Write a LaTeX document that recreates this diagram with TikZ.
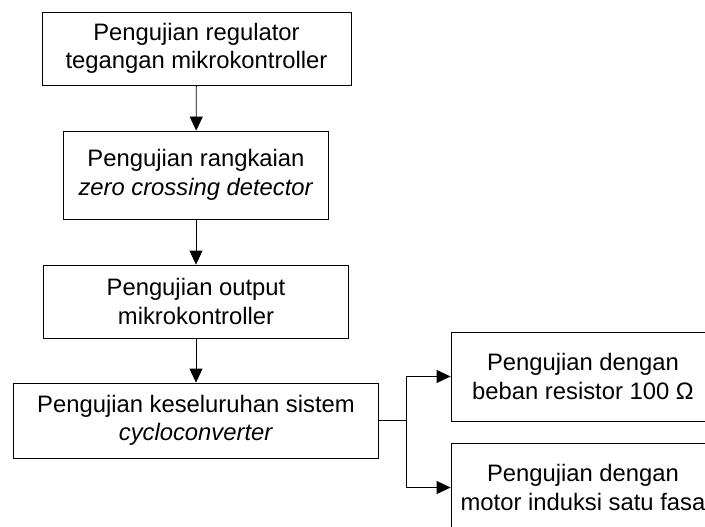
\documentclass[tikz,border=0pt]{standalone}
\usepackage{fontspec}
\setmainfont{Liberation Sans}
\usetikzlibrary{arrows.meta}
\begin{document}
\begin{tikzpicture}[x=1pt,y=-1pt,
  boxnode/.style={draw=black,line width=0.8pt,rectangle,align=center,inner sep=0pt,
    font=\fontsize{23.8}{28.5}\selectfont},
  conn/.style={line width=0.8pt,-{Triangle[length=14pt,width=13pt]}}]
\useasboundingbox (0,0) rectangle (705,527);
\clip (0,0) rectangle (705,527);
\node[boxnode,minimum width=309pt,minimum height=73pt] (b1) at (196.5,48.5)
  {Pengujian regulator\\tegangan mikrokontroller};
\node[boxnode,minimum width=265pt,minimum height=88pt] (b2) at (196,175)
  {Pengujian rangkaian\\\textit{zero crossing detector}};
\node[boxnode,minimum width=305pt,minimum height=73pt] (b3) at (196,301.5)
  {Pengujian output\\mikrokontroller};
\node[boxnode,minimum width=365pt,minimum height=75pt] (b4) at (196,420.5)
  {Pengujian keseluruhan sistem\\\textit{cycloconverter}};
\node[boxnode,minimum width=264pt,minimum height=89pt] (b5) at (583,376.5)
  {Pengujian dengan\\beban resistor 100 Ω};
\node[boxnode,minimum width=264pt,minimum height=89pt] (b6) at (583,487.5)
  {Pengujian dengan\\motor induksi satu fasa};
\coordinate (j) at (406,420.5);
\draw[conn] (b1) -- (b2);
\draw[conn] (b2) -- (b3);
\draw[conn] (b3) -- (b4);
\draw[line width=0.8pt] (b4.east) -- (j);
\draw[conn] (j) |- (b5.west);
\draw[conn] (j) |- (b6.west);
\end{tikzpicture}
\end{document}
